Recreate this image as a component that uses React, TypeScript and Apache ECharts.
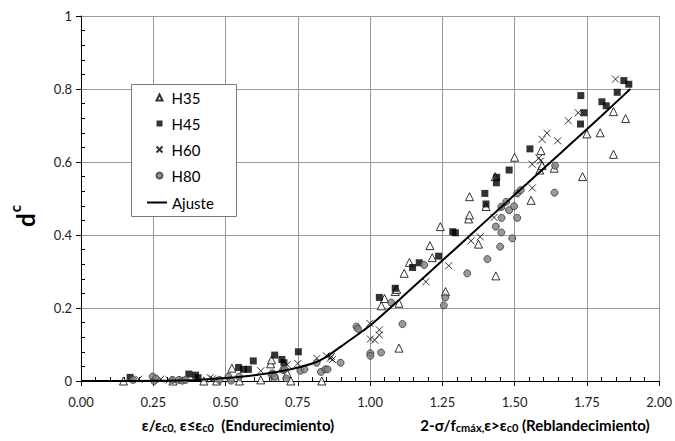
import React, { useEffect, useRef } from "react";
import * as echarts from "echarts";

const FONT = 'Lato, "Liberation Sans", "DejaVu Sans", sans-serif';

// Tick settings
const xTicks = [0, 0.25, 0.5, 0.75, 1.0, 1.25, 1.5, 1.75, 2.0];
const yTicks = [0, 0.2, 0.4, 0.6, 0.8, 1];

// H35 (open triangles)
const h35: number[][] = [
  [0.147, 0.0], [0.318, 0.0], [0.425, 0.0], [0.469, 0.0], [0.522, 0.035], [0.548, 0.0],
  [0.622, 0.003], [0.656, 0.047], [0.659, 0.058], [0.670, 0.016], [0.672, 0.010], [0.713, 0.021],
  [0.726, 0.0], [0.833, 0.0], [1.039, 0.206], [1.050, 0.226], [1.087, 0.245], [1.092, 0.251],
  [1.100, 0.213], [1.100, 0.090], [1.118, 0.295], [1.136, 0.325], [1.207, 0.371], [1.215, 0.338],
  [1.243, 0.423], [1.261, 0.245], [1.341, 0.444], [1.344, 0.455], [1.344, 0.505], [1.375, 0.375],
  [1.401, 0.478], [1.433, 0.560], [1.435, 0.288], [1.500, 0.613], [1.557, 0.495], [1.587, 0.578],
  [1.591, 0.631], [1.595, 0.590], [1.637, 0.583], [1.735, 0.560], [1.750, 0.677], [1.796, 0.680],
  [1.842, 0.738], [1.842, 0.621], [1.884, 0.719],
];

// H45 (filled squares)
const h45: number[][] = [
  [0.170, 0.010], [0.373, 0.019], [0.396, 0.016], [0.405, 0.009], [0.545, 0.037], [0.562, 0.032],
  [0.579, 0.032], [0.596, 0.055], [0.670, 0.071], [0.695, 0.059], [0.702, 0.050], [0.752, 0.080],
  [1.032, 0.229], [1.087, 0.254], [1.147, 0.311], [1.170, 0.324], [1.237, 0.342], [1.286, 0.409],
  [1.295, 0.406], [1.397, 0.514], [1.401, 0.485], [1.437, 0.543], [1.438, 0.558], [1.481, 0.578],
  [1.553, 0.636], [1.728, 0.704], [1.729, 0.782], [1.740, 0.735], [1.802, 0.765], [1.817, 0.754],
  [1.855, 0.791], [1.878, 0.823], [1.895, 0.813],
];

// H60 (crosses)
const h60: number[][] = [
  [0.200, 0.005], [0.276, 0.005], [0.305, 0.003], [0.447, 0.009], [0.455, 0.006], [0.622, 0.028],
  [0.713, 0.045], [0.750, 0.048], [0.816, 0.062], [0.849, 0.069], [0.862, 0.062], [0.866, 0.067],
  [0.870, 0.059], [0.999, 0.158], [1.001, 0.115], [1.016, 0.112], [1.032, 0.140], [1.032, 0.126],
  [1.193, 0.272], [1.272, 0.316], [1.349, 0.384], [1.381, 0.395], [1.429, 0.448], [1.461, 0.476],
  [1.561, 0.529], [1.561, 0.594], [1.584, 0.611], [1.590, 0.603], [1.595, 0.662], [1.612, 0.679],
  [1.649, 0.658], [1.686, 0.713], [1.720, 0.735], [1.849, 0.827],
];

// H80 (grey circles)
const h80: number[][] = [
  [0.180, 0.003], [0.248, 0.012], [0.253, 0.0], [0.259, 0.007], [0.316, 0.003], [0.339, 0.003],
  [0.350, 0.001], [0.362, 0.003], [0.479, 0.003], [0.510, 0.012], [0.519, 0.001], [0.547, 0.012],
  [0.659, 0.018], [0.662, 0.021], [0.670, 0.012], [0.699, 0.030], [0.704, 0.032], [0.710, 0.007],
  [0.759, 0.028], [0.773, 0.032], [0.815, 0.050], [0.830, 0.025], [0.845, 0.032], [0.853, 0.032],
  [0.898, 0.050], [0.953, 0.149], [0.958, 0.143], [1.001, 0.076], [1.001, 0.069], [1.038, 0.078],
  [1.073, 0.215], [1.112, 0.156], [1.187, 0.318], [1.255, 0.207], [1.260, 0.229], [1.336, 0.295],
  [1.406, 0.334], [1.435, 0.423], [1.450, 0.368], [1.454, 0.407], [1.454, 0.477], [1.455, 0.447],
  [1.471, 0.491], [1.481, 0.468], [1.492, 0.391], [1.498, 0.479], [1.509, 0.447], [1.509, 0.514],
  [1.521, 0.523], [1.638, 0.516], [1.640, 0.590],
];

// Fitted curve (Ajuste)
const fitX = [0, 0.1, 0.2, 0.3, 0.4, 0.5, 0.6, 0.7, 0.8, 0.85, 0.9, 1.0, 1.1, 1.2, 1.3, 1.4, 1.5, 1.6, 1.7, 1.8, 1.9];
const fitY = [0, 0, 0, 0.001, 0.003, 0.008, 0.016, 0.028, 0.048, 0.067, 0.095, 0.152, 0.222, 0.294, 0.366, 0.438, 0.51, 0.582, 0.654, 0.726, 0.80];

const CROSS = "path://M0,0L10,10M10,0L0,10";

export default function App() {
  const ref = useRef<HTMLDivElement>(null);
  useEffect(() => {
    if (!ref.current) return;
    const chart = echarts.init(ref.current, undefined, { renderer: "svg" });
    const labelStyle = { fontFamily: FONT, fontSize: 13, color: "#222" };
    const legendText = { fontFamily: FONT, fontSize: 15, color: "#000", padding: [0, 0, 0, 4] };
    const subStyle = { fontFamily: FONT, fontSize: 11, fontWeight: "bold", fill: "#000", verticalAlign: "bottom" };
    const option: any = {
      animation: false,
      backgroundColor: "#fff",
      grid: { left: 81, right: 10, top: 16, bottom: 60, containLabel: false },
      xAxis: [
        {
          type: "value", min: xTicks[0], max: xTicks[xTicks.length - 1], interval: 0.25, position: "bottom",
          axisLine: { show: true, onZero: false, lineStyle: { color: "#000", width: 1 } },
          axisTick: { show: true, length: 5, lineStyle: { color: "#000" } },
          axisLabel: { ...labelStyle, margin: 14, formatter: (v: number) => v.toFixed(2) },
          splitLine: { show: true, lineStyle: { color: "#9a9a9a", width: 1 } },
        },
        {
          type: "value", min: xTicks[0], max: xTicks[xTicks.length - 1], interval: 0.25, position: "bottom",
          axisLine: { show: false },
          axisTick: { show: false, inside: true, length: 4 },
          minorTick: { show: true, splitNumber: 5, length: 4, lineStyle: { color: "#000" } },
          axisLabel: { show: false },
          splitLine: { show: false },
        },
      ],
      yAxis: [
        {
          type: "value", min: yTicks[0], max: yTicks[yTicks.length - 1], interval: 0.2, position: "left",
          axisLine: { show: true, onZero: false, lineStyle: { color: "#000", width: 1 } },
          axisTick: { show: true, length: 5, lineStyle: { color: "#000" } },
          axisLabel: { ...labelStyle, margin: 9, formatter: (v: number) => String(Number(v.toFixed(1))) },
          splitLine: { show: true, lineStyle: { color: "#9a9a9a", width: 1 } },
        },
        {
          type: "value", min: yTicks[0], max: yTicks[yTicks.length - 1], interval: 0.2, position: "left",
          axisLine: { show: false },
          axisTick: { show: false, inside: true, length: 4 },
          minorTick: { show: true, splitNumber: 5, length: 4, lineStyle: { color: "#000" } },
          axisLabel: { show: false },
          splitLine: { show: false },
        },
      ],
      legend: [
        {
          orient: "vertical", left: 154, top: 90,
          itemWidth: 6, itemHeight: 6, itemGap: 11, padding: 0,
          textStyle: legendText,
          data: ["H35", "H45", "H60", "H80"],
        },
        {
          orient: "vertical", left: 147, top: 195,
          itemWidth: 20, itemHeight: 2, padding: 0,
          textStyle: { ...legendText, padding: [0, 0, 0, 0] },
          data: [{ name: "Ajuste", icon: "rect" }],
        },
      ],
      series: [
        {
          name: "H35", type: "scatter", data: h35, symbol: "triangle", symbolSize: 8,
          itemStyle: { color: "#fff", borderColor: "#000", borderWidth: 1 },
        },
        {
          name: "H45", type: "scatter", data: h45, symbol: "rect", symbolSize: 7,
          itemStyle: { color: "#000" },
        },
        {
          name: "H60", type: "scatter", data: h60, symbol: CROSS, symbolSize: 7,
          itemStyle: { color: "none", borderColor: "#000", borderWidth: 1 },
        },
        {
          name: "H80", type: "scatter", data: h80, symbol: "circle", symbolSize: 7,
          itemStyle: { color: "#808080", borderColor: "#3a3a3a", borderWidth: 1 },
        },
        {
          name: "Ajuste", type: "line", data: fitX.map((x, i) => [x, fitY[i]]),
          showSymbol: false, symbol: "none", smooth: 0.2,
          lineStyle: { color: "#000", width: 2 }, itemStyle: { color: "#000" },
        },
      ],
      graphic: [
        {
          type: "rect", z: 3,
          shape: { x: 131.5, y: 84.5, width: 105, height: 132 },
          style: { fill: "#fff", stroke: "#7a7a7a", lineWidth: 1 },
        },
        {
          type: "text", x: 22, y: 216, rotation: Math.PI / 2,
          style: {
            text: "{d|d}{c|c}", align: "center", verticalAlign: "middle", fill: "#000",
            rich: {
              d: { fontFamily: FONT, fontSize: 24, fontWeight: "bold", fill: "#000", verticalAlign: "bottom", padding: [6, 0, 0, 0] },
              c: { fontFamily: FONT, fontSize: 15, fontWeight: "bold", fill: "#000", verticalAlign: "top", padding: [0, 0, 0, 1] },
            },
          },
        },
        {
          type: "text", x: 238, y: 425,
          style: {
            text: "ε/ε{s|c0,} ε≤ε{s|c0}  (Endurecimiento)",
            fontFamily: FONT, fontSize: 15, fontWeight: "bold", fill: "#000",
            align: "center", verticalAlign: "middle",
            rich: { s: subStyle },
          },
        },
        {
          type: "text", x: 535, y: 425,
          style: {
            text: "2-σ/f{s|cmáx,}ε>ε{s|c0} (Reblandecimiento)",
            fontFamily: FONT, fontSize: 15, fontWeight: "bold", fill: "#000",
            align: "center", verticalAlign: "middle",
            rich: { s: subStyle },
          },
        },
      ],
    };
    chart.setOption(option);
    return () => chart.dispose();
  }, []);
  return <div ref={ref} style={{ width: 675, height: 441, position: "absolute", left: 0, top: 0 }} />;
}
